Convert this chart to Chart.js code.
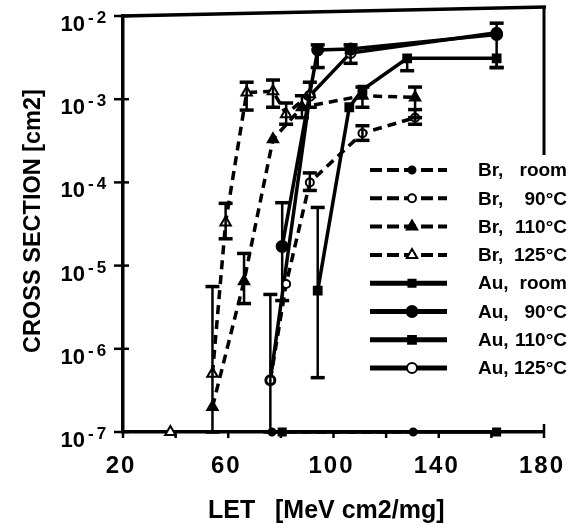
<!DOCTYPE html>
<html><head><meta charset="utf-8">
<script src="https://cdn.jsdelivr.net/npm/chart.js@4/dist/chart.umd.min.js"></script>
<style>html,body{margin:0;padding:0;background:#fff}#wrap{width:586px;height:528px;position:relative}</style>
</head><body><div id="wrap"><canvas id="c" width="586" height="528"></canvas></div>
<script>
// ---- axis ticks ----
const xTickValues = [20, 40, 60, 80, 100, 120, 140, 160, 180];
const xTickLabels = ['20', '', '60', '', '100', '', '140', '', '180'];
const yTickExponents = [-2, -3, -4, -5, -6, -7];

// ---- series (LET in MeV cm2/mg, cross section in cm2) ----
const brRoomLET = [76.6, 130.3];
const brRoomCS  = [1e-7, 1e-7];

const br90LET = [76, 82, 91, 111, 131];
const br90CS  = [4.2e-7, 6e-6, 1e-4, 3.9e-4, 6e-4];
const br90Lo  = [1e-7, null, 8e-5, 3.2e-4, 5e-4];
const br90Hi  = [4.5e-6, null, 1.3e-4, 4.8e-4, 7.5e-4];

const br110LET = [54, 66, 77, 88, 111, 131];
const br110CS  = [2e-7, 6.5e-6, 3.3e-4, 8e-4, 1.1e-3, 1.05e-3];
const br110Lo  = [null, 3.5e-6, null, 6e-4, 8e-4, 6e-4];
const br110Hi  = [null, 1.4e-5, null, 1.1e-3, 1.4e-3, 1.4e-3];

const br125LET = [38, 46, 54, 59, 67, 77, 82, 91];
const br125CS  = [1e-7, null, 5e-7, 3.3e-5, 1.2e-3, 1.25e-3, 6.6e-4, 1.15e-3];
const br125Lo  = [null, null, 1e-7, 2.1e-5, 7.4e-4, 8e-4, 5e-4, 8e-4];
const br125Hi  = [null, null, 5.6e-6, 5.6e-5, 1.6e-3, 1.7e-3, 9e-4, 1.6e-3];

const auRoomLET = [80.5, 162];
const auRoomCS  = [1e-7, 1e-7];

const au90LET = [80.5, 94, 106.5, 162];
const au90CS  = [1.7e-5, 3.9e-3, 4e-3, 6e-3];
const au90Lo  = [3.8e-6, 2.4e-3, 2.7e-3, 2.4e-3];
const au90Hi  = [5.7e-5, 4.5e-3, 4.5e-3, 8.2e-3];

const au110LET = [94, 106, 111, 128, 162];
const au110CS  = [5e-6, 8e-4, 1.3e-3, 3.1e-3, 3.1e-3];
const au110Lo  = [4.5e-7, null, null, 2.2e-3, 2.4e-3];
const au110Hi  = [5e-5, null, null, null, null];

const au125LET = [76, 91, 106.5, 162];
const au125CS  = [4.2e-7, 1.1e-3, 3.6e-3, 6.3e-3];

const legendNames = ['Br,|room', 'Br,|90°C', 'Br,|110°C', 'Br,|125°C', 'Au,|room', 'Au,|90°C', 'Au,|110°C', 'Au,|125°C'];

function pts(xs, ys) { return xs.map((x, i) => ({ x: x, y: ys[i] })); }

const DASH = [9, 6];
const datasets = [
  { data: pts(brRoomLET, brRoomCS), borderDash: DASH, pointStyle: 'circle', pointRadius: 3.5, fill: true, lo: null, hi: null },
  { data: pts(br90LET, br90CS), borderDash: DASH, pointStyle: 'circle', pointRadius: 4, fill: false, lo: br90Lo, hi: br90Hi },
  { data: pts(br110LET, br110CS), borderDash: DASH, pointStyle: 'triangle', pointRadius: 6, fill: true, lo: br110Lo, hi: br110Hi },
  { data: pts(br125LET, br125CS), borderDash: DASH, pointStyle: 'triangle', pointRadius: 6, fill: false, lo: br125Lo, hi: br125Hi },
  { data: pts(auRoomLET, auRoomCS), borderDash: [], pointStyle: 'rect', pointRadius: 5, fill: true, lo: null, hi: null },
  { data: pts(au90LET, au90CS), borderDash: [], pointStyle: 'circle', pointRadius: 5.5, fill: true, lo: au90Lo, hi: au90Hi },
  { data: pts(au110LET, au110CS), borderDash: [], pointStyle: 'rect', pointRadius: 5.5, fill: true, lo: au110Lo, hi: au110Hi },
  { data: pts(au125LET, au125CS), borderDash: [], pointStyle: 'circle', pointRadius: 5, fill: false, lo: null, hi: null }
].map((d, i) => ({
  label: legendNames[i].replace('|', ' '),
  data: d.data,
  showLine: true,
  spanGaps: false,
  borderColor: '#000',
  borderWidth: 3.5,
  borderDash: d.borderDash,
  pointStyle: d.pointStyle,
  pointRadius: d.pointRadius,
  pointBorderWidth: 2,
  pointBorderColor: '#000',
  pointBackgroundColor: d.fill ? '#000' : '#fff',
  clip: false,
  errLo: d.lo, errHi: d.hi
}));

const FONT = '"Liberation Sans", Arial, Helvetica, sans-serif';

const decor = {
  id: 'decor',
  beforeDatasetsDraw(chart) {
    const ctx = chart.ctx, xs = chart.scales.x, ys = chart.scales.y;
    const a = chart.chartArea;
    ctx.save();
    ctx.strokeStyle = '#000';
    ctx.lineCap = 'butt';
    ctx.lineWidth = 3.5;
    ctx.beginPath();
    ctx.moveTo(a.left - 1, a.top);
    ctx.lineTo(a.right + 2, a.top - 9);
    ctx.stroke();
    ctx.lineWidth = 3;
    ctx.beginPath();
    ctx.moveTo(a.right, a.top - 9);
    ctx.lineTo(a.right, 155);
    ctx.stroke();
    ctx.lineWidth = 2.5;
    xTickValues.forEach((v) => {
      const px = xs.getPixelForValue(v);
      ctx.beginPath();
      ctx.moveTo(px, a.bottom - (v === 180 ? 8 : 0));
      ctx.lineTo(px, a.bottom + 6);
      ctx.stroke();
    });
    yTickExponents.forEach((e) => {
      const py = ys.getPixelForValue(Math.pow(10, e));
      ctx.beginPath();
      ctx.moveTo(a.left - 9, py);
      ctx.lineTo(a.left + 6, py);
      ctx.stroke();
    });
    ctx.restore();
  },
  afterDatasetsDraw(chart) {
    const ctx = chart.ctx, ys = chart.scales.y;
    ctx.save();
    ctx.strokeStyle = '#000';
    chart.data.datasets.forEach((ds, di) => {
      if (!ds.errLo) return;
      const meta = chart.getDatasetMeta(di);
      meta.data.forEach((el, i) => {
        const lo = ds.errLo[i], hi = ds.errHi[i];
        if (lo == null && hi == null) return;
        const px = el.x, py = el.y;
        ctx.lineWidth = 2.5;
        const yl = lo != null ? ys.getPixelForValue(lo) : py;
        const yh = hi != null ? ys.getPixelForValue(hi) : py;
        ctx.beginPath();
        ctx.moveTo(px, yl); ctx.lineTo(px, yh); ctx.stroke();
        ctx.lineWidth = 3.5;
        if (lo != null) { ctx.beginPath(); ctx.moveTo(px - 7, yl); ctx.lineTo(px + 7, yl); ctx.stroke(); }
        if (hi != null) { ctx.beginPath(); ctx.moveTo(px - 7, yh); ctx.lineTo(px + 7, yh); ctx.stroke(); }
      });
    });
    ctx.restore();
  },
  afterDraw(chart) {
    const ctx = chart.ctx, xs = chart.scales.x, ys = chart.scales.y;
    const a = chart.chartArea;
    ctx.save();
    ctx.fillStyle = '#000';
    ctx.font = 'bold 24px ' + FONT;
    ctx.textAlign = 'center';
    ctx.textBaseline = 'alphabetic';
    ctx.letterSpacing = '2px';
    xTickValues.forEach((v, i) => {
      if (!xTickLabels[i]) return;
      ctx.fillText(xTickLabels[i], xs.getPixelForValue(v) - 2, a.bottom + 41);
    });
    ctx.letterSpacing = '0px';
    yTickExponents.forEach((e) => {
      const py = ys.getPixelForValue(Math.pow(10, e));
      ctx.font = 'bold 22px ' + FONT;
      ctx.textAlign = 'right';
      ctx.fillText('10', 85, py + 15);
      ctx.font = 'bold 17px ' + FONT;
      ctx.textAlign = 'left';
      ctx.letterSpacing = '3px';
      ctx.fillText(String(e), 88, py + 7);
      ctx.letterSpacing = '0px';
    });
    ctx.font = 'bold 25px ' + FONT;
    ctx.textAlign = 'left';
    ctx.fillText('LET', 208, 518);
    ctx.fillText('[MeV cm2/mg]', 275, 518);
    ctx.save();
    ctx.translate(40, 221);
    ctx.rotate(-Math.PI / 2);
    ctx.textAlign = 'center';
    ctx.font = 'bold 23.5px ' + FONT;
    ctx.fillText('CROSS SECTION [cm2]', 0, 0);
    ctx.restore();
    const rowY0 = 170, rowDy = 28.3;
    chart.data.datasets.forEach((ds, i) => {
      const y = rowY0 + i * rowDy;
      ctx.strokeStyle = '#000';
      ctx.lineWidth = i < 4 ? 4 : 5;
      ctx.setLineDash(i < 4 ? [12, 5] : []);
      ctx.beginPath();
      ctx.moveTo(370, y); ctx.lineTo(447, y); ctx.stroke();
      ctx.setLineDash([]);
      ctx.lineWidth = 2;
      ctx.fillStyle = ds.pointBackgroundColor;
      ctx.strokeStyle = '#000';
      Chart.helpers.drawPoint(ctx, { pointStyle: ds.pointStyle, radius: ds.pointRadius, borderWidth: 2, rotation: 0 }, 412, y);
      ctx.fillStyle = '#000';
      const parts = legendNames[i].split('|');
      ctx.font = 'bold 19px ' + FONT;
      ctx.textAlign = 'left';
      ctx.textBaseline = 'middle';
      ctx.fillText(parts[0], 478, y + 1);
      ctx.textAlign = 'right';
      ctx.fillText(parts[1], 567, y + 1);
    });
    ctx.restore();
  }
};

new Chart(document.getElementById('c'), {
  type: 'scatter',
  data: { datasets: datasets },
  plugins: [decor],
  options: {
    responsive: false,
    devicePixelRatio: 1,
    animation: false,
    layout: { padding: { top: 16, right: 42, left: 0, bottom: 0 } },
    plugins: { legend: { display: false }, tooltip: { enabled: false } },
    scales: {
      x: {
        type: 'linear', min: 20, max: 180,
        grid: { display: false },
        border: { display: true, color: '#000', width: 3.5 },
        ticks: { display: false },
        afterFit(s) { s.height = 96; }
      },
      y: {
        type: 'logarithmic', min: 1e-7, max: 1e-2,
        grid: { display: false },
        border: { display: true, color: '#000', width: 3.5 },
        ticks: { display: false },
        afterFit(s) { s.width = 123; }
      }
    }
  }
});
</script>
</body></html>
